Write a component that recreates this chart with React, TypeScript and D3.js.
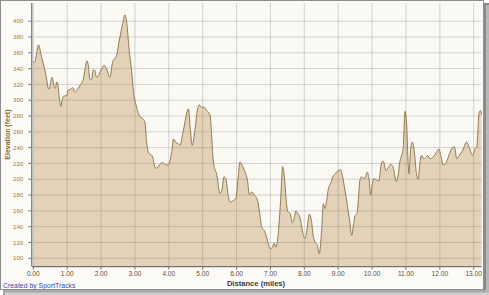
import React from "react";
import * as d3 from "d3";

const distance = [
  0.0, 0.05, 0.1, 0.15, 0.19, 0.22, 0.26, 0.32, 0.4, 0.44, 0.47, 0.52, 0.55, 0.58, 0.62, 0.65, 0.69, 0.72, 0.77, 0.81,
  0.85, 0.89, 0.99, 1.03, 1.1, 1.16, 1.23, 1.28, 1.38, 1.48, 1.53, 1.58, 1.62, 1.67, 1.72, 1.77, 1.81, 1.87, 1.92, 2.02,
  2.09, 2.16, 2.26, 2.34, 2.46, 2.54, 2.64, 2.7, 2.76, 2.83, 2.9, 2.95, 3.05, 3.15, 3.25, 3.3, 3.34, 3.38, 3.43, 3.48,
  3.54, 3.59, 3.65, 3.72, 3.8, 3.89, 3.98, 4.08, 4.14, 4.2, 4.28, 4.33, 4.43, 4.58, 4.63, 4.69, 4.77, 4.84, 4.9, 4.97,
  5.05, 5.12, 5.22, 5.26, 5.31, 5.36, 5.41, 5.51, 5.56, 5.63, 5.68, 5.76, 5.81, 5.9, 5.98, 6.05, 6.1, 6.18, 6.25, 6.32,
  6.38, 6.45, 6.52, 6.57, 6.62, 6.67, 6.74, 6.84, 6.91, 6.99, 7.06, 7.11, 7.16, 7.23, 7.3, 7.36, 7.41, 7.46, 7.51, 7.58,
  7.65, 7.7, 7.75, 7.8, 7.87, 7.95, 8.02, 8.08, 8.15, 8.2, 8.27, 8.34, 8.38, 8.44, 8.51, 8.56, 8.61, 8.66, 8.71, 8.78,
  8.84, 8.91, 9.0, 9.07, 9.13, 9.2, 9.27, 9.33, 9.4, 9.45, 9.5, 9.55, 9.59, 9.64, 9.69, 9.78, 9.86, 9.91, 9.96, 10.01,
  10.06, 10.13, 10.2, 10.28, 10.33, 10.41, 10.48, 10.55, 10.63, 10.71, 10.76, 10.82, 10.87, 10.92, 10.97, 11.02, 11.06, 11.09, 11.14, 11.19,
  11.25, 11.31, 11.36, 11.41, 11.46, 11.53, 11.59, 11.64, 11.71, 11.8, 11.91, 11.97, 12.03, 12.1, 12.17, 12.25, 12.35, 12.43, 12.5, 12.57,
  12.68, 12.79, 12.87, 12.97, 13.03, 13.09, 13.16, 13.2, 13.25,
];

const elevation = [
  348, 349, 360, 370, 366, 359, 352, 342, 325, 315, 314, 325, 329, 325, 316, 315, 323, 321, 302, 292,
  300, 305, 306, 313, 314, 316, 310, 312, 319, 327, 340, 350, 345, 327, 326, 338, 338, 329, 331, 340,
  344, 340, 329, 348, 357, 376, 397, 408, 397, 363, 338, 313, 291, 279, 276, 271, 249, 237, 232, 231,
  226, 215, 214, 218, 221, 219, 218, 233, 251, 247, 245, 243, 262, 289, 266, 243, 262, 287, 294, 291,
  291, 287, 281, 258, 224, 213, 207, 182, 185, 203, 201, 178, 171, 173, 176, 203, 222, 216, 209, 199,
  180, 184, 180, 178, 173, 161, 140, 133, 123, 112, 114, 119, 114, 131, 173, 216, 203, 176, 159, 157,
  145, 150, 160, 157, 152, 133, 125, 137, 156, 150, 127, 119, 117, 106, 135, 169, 163, 173, 188, 195,
  203, 207, 211, 212, 203, 186, 167, 150, 129, 142, 154, 156, 171, 199, 203, 201, 209, 200, 180, 195,
  201, 199, 198, 221, 223, 211, 215, 219, 214, 197, 203, 222, 230, 240, 286, 270, 224, 207, 239, 247,
  233, 207, 200, 220, 230, 226, 228, 230, 226, 228, 235, 238, 230, 218, 220, 228, 239, 241, 226, 230,
  237, 247, 240, 230, 238, 241, 285, 287, 282,
];

const yTicks = [100, 120, 140, 160, 180, 200, 220, 240, 260, 280, 300, 320, 340, 360, 380, 400];
const xTicks = [0, 1, 2, 3, 4, 5, 6, 7, 8, 9, 10, 11, 12, 13];

const W = 489;
const H = 295;
const L = 33.3;
const R = 481.5;
const T = 3;
const B = 266.2;

export default function App() {
  const x = d3.scaleLinear().domain([0, 13.23]).range([L, R]);
  const y = d3.scaleLinear().domain([90, 423]).range([B, T]);
  const pts = distance.map((d, i) => [Math.min(d, 13.23), elevation[i]] as [number, number]);
  const area = d3
    .area<[number, number]>()
    .x((p) => x(p[0]))
    .y0(B)
    .y1((p) => y(p[1]))
    .curve(d3.curveMonotoneX);
  const line = d3
    .line<[number, number]>()
    .x((p) => x(p[0]))
    .y((p) => y(p[1]))
    .curve(d3.curveMonotoneX);
  const font = "'Liberation Sans', Arial, sans-serif";

  return (
    <svg width={W} height={H} style={{ position: "absolute", left: 0, top: 0 }}>
      {/* shadow */}
      <rect x={484} y={3} width={5} height={292} fill="#8a8a8a" />
      <rect x={3} y={290} width={486} height={5} fill="#a8a8a8" />
      <rect x={486} y={5} width={3} height={290} fill="#b8b8b8" />
      <rect x={5} y={292.5} width={484} height={2.5} fill="#cfcfcf" />
      {/* frame */}
      <rect x={0.5} y={0.5} width={483} height={289} fill="#fcfbf8" stroke="#8e8e8e" strokeWidth={1} />
      {/* plot bg */}
      <rect x={L} y={T} width={R - L} height={B - T} fill="#faf9f4" />
      {/* area */}
      <path d={area(pts) || ""} fill="#e3d2b7" />
      {/* grid */}
      {yTicks.map((t) => (
        <line key={"gy" + t} x1={L} x2={R} y1={y(t)} y2={y(t)} stroke="rgba(110,110,110,0.28)" strokeWidth={1} />
      ))}
      {xTicks.map((t) => (
        <line key={"gx" + t} x1={x(t)} x2={x(t)} y1={T} y2={B} stroke="rgba(110,110,110,0.28)" strokeWidth={1} />
      ))}
      <path d={line(pts) || ""} fill="none" stroke="#8f7b52" strokeWidth={1} />
      {/* axes */}
      <line x1={L - 1.5} x2={L - 1.5} y1={T} y2={B} stroke="#555" strokeWidth={1} />
      <line x1={L - 1.5} x2={R} y1={B + 0.5} y2={B + 0.5} stroke="#555" strokeWidth={1} />
      {yTicks.map((t) => (
        <g key={"ty" + t}>
          <line x1={L - 5} x2={L - 1.5} y1={y(t)} y2={y(t)} stroke="#777" strokeWidth={1} />
          <text x={L - 10} y={y(t) + 2.2} textAnchor="end" fontSize={6.2} fontFamily={font} fill="#9a7f45">
            {t}
          </text>
        </g>
      ))}
      {xTicks.map((t) => (
        <g key={"tx" + t}>
          <line x1={x(t)} x2={x(t)} y1={B + 0.5} y2={B + 3.5} stroke="#777" strokeWidth={1} />
          <text x={x(t)} y={B + 10} textAnchor="middle" fontSize={6.6} fontFamily={font} fill="#5a5040">
            {t.toFixed(2)}
          </text>
        </g>
      ))}
      <text
        transform={`translate(9.8,${(T + B) / 2}) rotate(-90)`}
        textAnchor="middle"
        fontSize={7}
        fontWeight="bold"
        fontFamily={font}
        fill="#8a6a28"
      >
        Elevation (feet)
      </text>
      <text x={256} y={285.5} textAnchor="middle" fontSize={7.6} fontWeight="bold" fontFamily={font} fill="#3a3a3a">
        Distance (miles)
      </text>
      <text x={3} y={288} fontSize={6.9} fontFamily={font} fill="#3a45b0">
        Created by SportTracks
      </text>
    </svg>
  );
}
